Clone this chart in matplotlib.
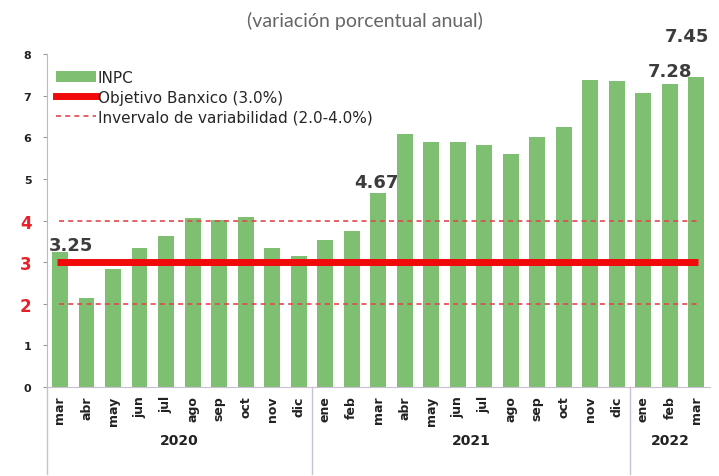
import matplotlib.pyplot as plt
from matplotlib.patches import Patch
from matplotlib.lines import Line2D

# INPC, variación porcentual anual
months = ['mar', 'abr', 'may', 'jun', 'jul', 'ago', 'sep', 'oct', 'nov', 'dic',
          'ene', 'feb', 'mar', 'abr', 'may', 'jun', 'jul', 'ago', 'sep', 'oct', 'nov', 'dic',
          'ene', 'feb', 'mar']
inpc = [3.25, 2.15, 2.84, 3.33, 3.62, 4.05, 4.01, 4.09, 3.33, 3.15,
        3.54, 3.76, 4.67, 6.08, 5.89, 5.88, 5.81, 5.59, 6.00, 6.24, 7.37, 7.36,
        7.07, 7.28, 7.45]
years = ['2020', '2021', '2022']
year_counts = [10, 12, 3]
labelled = [0, 12, 23, 24]
objetivo = 3.0
intervalo = (2.0, 4.0)

green = '#7fbf72'
red = '#f00a0a'
red_dash = '#e0474c'
sep_color = '#cbbfd3'

fig = plt.figure(figsize=(7.19, 4.77), dpi=100)
ax = fig.add_axes([0.065, 0.1866, 0.922, 0.698])

x = list(range(len(inpc)))
ax.bar(x, inpc, width=0.6, color=green, zorder=2)
ax.hlines(objetivo, -0.1, len(inpc) - 0.95, color=red, lw=5, zorder=3)
for lvl in intervalo:
    ax.hlines(lvl, -0.05, len(inpc) - 0.95, color=red_dash, lw=1.2,
              linestyles=(0, (3, 2.5)), zorder=3)

ax.set_xlim(-0.5, len(inpc) - 0.5)
ax.set_ylim(0, 8)

# value labels (offsets in data units)
offsets = {0: (0.42, 0.15), 12: (-0.05, 0.26), 23: (0.0, 0.32), 24: (-0.35, 0.99)}
for i in labelled:
    dx, dy = offsets[i]
    ax.text(i + dx, inpc[i] + dy, f'{inpc[i]:.2f}', ha='center', va='center',
            fontsize=13, fontweight='bold', color='#3c3c3c', zorder=4, clip_on=False)

# y axis
ax.set_yticks(range(9))
ax.set_yticklabels([str(v) for v in range(9)])
ax.tick_params(axis='y', length=3, color='#999999', pad=8)
for v, t in zip(range(9), ax.get_yticklabels()):
    if v in (2, 3, 4):
        t.set_color('#e8202a')
        t.set_fontsize(12)
    else:
        t.set_color('#222222')
        t.set_fontsize(8)
    t.set_fontweight('bold')

# x axis: months and years
ax.set_xticks(x)
ax.set_xticklabels(months, rotation=90, fontsize=9, fontweight='bold', color='#222222')
ax.tick_params(axis='x', length=0, pad=6)

for s in ['top', 'right']:
    ax.spines[s].set_visible(False)
ax.spines['left'].set_color('#bbbbbb')
ax.spines['bottom'].set_color(sep_color)

start = 0
bounds = [-0.5]
for yr, n in zip(years, year_counts):
    mid = start + (n - 1) / 2
    ax.text(mid, -1.27, yr, ha='center', va='center', fontsize=10, fontweight='bold',
            color='#222222', clip_on=False)
    start += n
    bounds.append(start - 0.5)
for b in bounds[:-1]:
    ax.plot([b, b], [0, -2.1], color=sep_color, lw=1, clip_on=False)

# legend
handles = [Patch(facecolor=green, edgecolor='none'),
           Line2D([0], [0], color=red, lw=5),
           Line2D([0], [0], color=red_dash, lw=1.2, linestyle=(0, (3, 2.5)))]
names = ['INPC', 'Objetivo Banxico (3.0%)', 'Invervalo de variabilidad (2.0-4.0%)']
leg = ax.legend(handles, names, loc='upper left', bbox_to_anchor=(0.0, 0.98), frameon=False,
                handlelength=2.6, handletextpad=0.15, labelspacing=0.32,
                borderaxespad=0.2, prop={'family': 'DejaVu Sans', 'size': 11})
for t in leg.get_texts():
    t.set_color('#262626')

fig.text(0.508, 0.955, '(variación porcentual anual)', ha='center', va='center',
         fontsize=14, color='#666666', family='Lato')

fig.savefig('out.png', dpi=100)
